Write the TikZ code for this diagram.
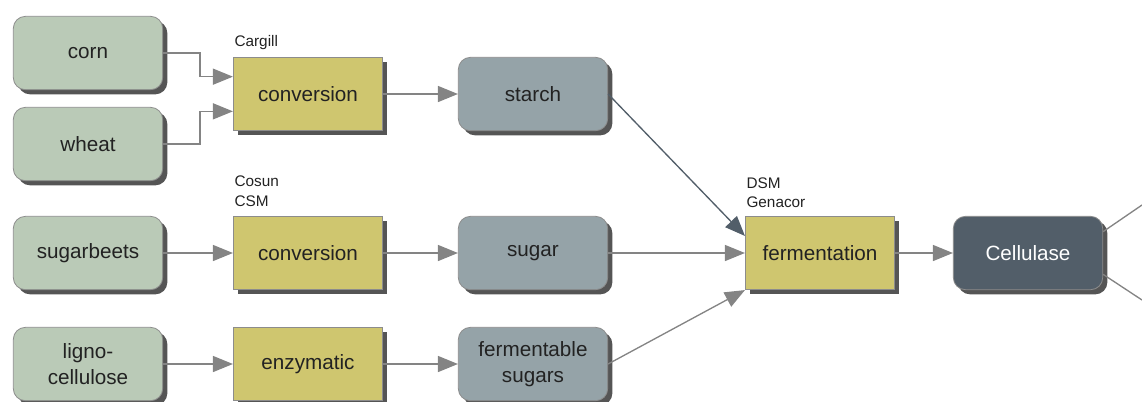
\documentclass[tikz,border=0pt]{standalone}
\usepackage{fontspec}
\setmainfont{Liberation Sans}
\usetikzlibrary{arrows.meta,shadows}
\definecolor{rawgreen}{HTML}{BACAB7}
\definecolor{procyellow}{HTML}{CFC66F}
\definecolor{prodgray}{HTML}{95A3A8}
\definecolor{enzslate}{HTML}{525E69}
\definecolor{boxline}{HTML}{8C8C8C}
\definecolor{shadowgray}{HTML}{555555}
\definecolor{linkgray}{HTML}{848484}
\definecolor{textdark}{HTML}{222222}
\tikzstyle{box} = [draw=boxline, line width=0.6pt, minimum width=112pt, minimum height=55pt,
  text=textdark, align=center, font=\fontsize{15.5}{20}\selectfont,
  drop shadow={shadow xshift=3.5pt, shadow yshift=-3.5pt, fill=shadowgray, opacity=1}]
\tikzstyle{raw} = [box, rounded corners=9pt, fill=rawgreen]
\tikzstyle{proc} = [box, fill=procyellow]
\tikzstyle{prod} = [box, rounded corners=9pt, fill=prodgray]
\tikzstyle{enzyme} = [box, rounded corners=9pt, fill=enzslate, text=white]
\tikzstyle{tag} = [anchor=south west, inner sep=1pt, align=left, text=textdark,
  font=\fontsize{11.5}{14.5}\selectfont]
\tikzstyle{connector} = [draw=linkgray, line width=1pt, -{Triangle[length=15pt,width=12pt]}]
\tikzstyle{outline} = [draw=linkgray, line width=1pt]

\begin{document}
\begin{tikzpicture}[x=0.75pt, y=-0.75pt]
  \useasboundingbox (0,0) rectangle (1142,401);
  % raw materials
  \node (corn) [raw] at (88,53) {corn};
  \node (wheat) [raw] at (88,144) {wheat};
  \node (beets) [raw] at (88,253) {sugarbeets};
  \node (ligno) [raw] at (88,364) {ligno-\\cellulose};
  % processes
  \node (conv1) [proc] at (308,94) {conversion};
  \node (conv2) [proc] at (308,253) {conversion};
  \node (enzym) [proc] at (308,364) {enzymatic};
  \node (ferm) [proc] at (820,253) {fermentation};
  % products
  \node (starch) [prod] at (533,94) {starch};
  \node (sugar) [prod] at (533,253) {sugar};
  \node (fsugars) [prod] at (533,364) {fermentable\\sugars};
  \node (cellulase) [enzyme] at (1028,253) {Cellulase};
  % companies
  \node (cargill) [tag] at ([yshift=4pt]conv1.north west) {Cargill};
  \node (cosun) [tag] at ([yshift=6pt]conv2.north west) {Cosun\\CSM};
  \node (dsm) [tag] at ([yshift=5pt]ferm.north west) {DSM\\Genacor};

  \coordinate (out1) at (1142,205);
  \coordinate (out2) at (1142,300);

  \draw [connector] (corn.east) -- ++(37,0) |- ([yshift=13pt]conv1.west);
  \draw [connector] (wheat.east) -- ++(37,0) |- ([yshift=-13pt]conv1.west);
  \draw [connector] (beets) -- (conv2);
  \draw [connector] (ligno) -- (enzym);
  \draw [connector] (conv1) -- (starch);
  \draw [connector] (conv2) -- (sugar);
  \draw [connector] (enzym) -- (fsugars);
  \draw [connector, draw=enzslate, -{Triangle[length=15pt,width=12pt,fill=enzslate]}] (starch.east) -- ([yshift=-15pt]ferm.north west);
  \draw [connector] (sugar) -- (ferm);
  \draw [connector] (fsugars.east) -- (ferm.south west);
  \draw [connector] (ferm) -- (cellulase);
  \draw [outline] ([yshift=16pt]cellulase.east) -- (out1);
  \draw [outline] ([yshift=-16pt]cellulase.east) -- (out2);
\end{tikzpicture}
\end{document}
